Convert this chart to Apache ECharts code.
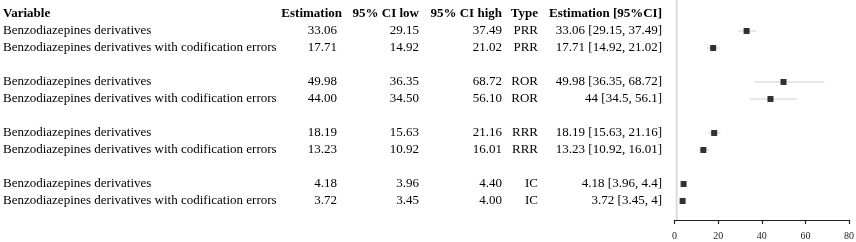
<!DOCTYPE html>
<html>
<head>
<meta charset="utf-8">
<script src="https://cdn.jsdelivr.net/npm/echarts@6/dist/echarts.min.js"></script>
<style>
  html, body { margin: 0; padding: 0; background: #fff; }
  #main { width: 856px; height: 242px; }
</style>
</head>
<body>
<div id="main"></div>
<script>
// table / forest plot data
var variables = [
  'Benzodiazepines derivatives',
  'Benzodiazepines derivatives with codification errors',
  'Benzodiazepines derivatives',
  'Benzodiazepines derivatives with codification errors',
  'Benzodiazepines derivatives',
  'Benzodiazepines derivatives with codification errors',
  'Benzodiazepines derivatives',
  'Benzodiazepines derivatives with codification errors'
];
var estimation = [33.06, 17.71, 49.98, 44.00, 18.19, 13.23, 4.18, 3.72];
var ciLow = [29.15, 14.92, 36.35, 34.50, 15.63, 10.92, 3.96, 3.45];
var ciHigh = [37.49, 21.02, 68.72, 56.10, 21.16, 16.01, 4.40, 4.00];
var types = ['PRR', 'PRR', 'ROR', 'ROR', 'RRR', 'RRR', 'IC', 'IC'];
var estLabels = [
  '33.06 [29.15, 37.49]', '17.71 [14.92, 21.02]',
  '49.98 [36.35, 68.72]', '44 [34.5, 56.1]',
  '18.19 [15.63, 21.16]', '13.23 [10.92, 16.01]',
  '4.18 [3.96, 4.4]', '3.72 [3.45, 4]'
];
var headers = ['Variable', 'Estimation', '95% CI low', '95% CI high', 'Type', 'Estimation [95%CI]'];
var xTicks = [0, 20, 40, 60, 80];
var refValue = 1;

// row layout: header, then groups of 2 with a blank row between
var rowOf = [1, 2, 4, 5, 7, 8, 10, 11];
var nRows = 12;
var rowKeys = [];
for (let i = 0; i < nRows; i++) rowKeys.push(String(i));

function column(col, vals) {
  var arr = [];
  for (let i = 0; i < nRows; i++) arr.push('');
  arr[0] = headers[col];
  for (let k = 0; k < vals.length; k++) arr[rowOf[k]] = vals[k];
  return arr;
}
var cols = [
  column(0, variables),
  column(1, estimation.map(v => v.toFixed(2))),
  column(2, ciLow.map(v => v.toFixed(2))),
  column(3, ciHigh.map(v => v.toFixed(2))),
  column(4, types),
  column(5, estLabels)
];

var FONT = '"Liberation Serif", "Times New Roman", serif';

// table grid geometry
var tblLeft = 674.5, tblTop = 5.5, rowH = 17;
// right edge of each text column (variable column: left edge)
var colX = [3, 342, 419, 502, 538, 662];
var valPad = [0, 5, 0, 0, 0, 0];

// plot grid: 0..220 px, value y axis lined up with the table rows
var plotH = 220;
var yMin = -(tblTop + rowH / 2) / rowH;
var yMax = yMin + plotH / rowH;

var yAxes = [];
cols.forEach(function (c, ci) {
  yAxes.push({
    type: 'category',
    gridIndex: 0,
    data: rowKeys,
    inverse: true,
    position: 'left',
    offset: tblLeft - colX[ci],
    axisLine: { show: false },
    axisTick: { show: false },
    splitLine: { show: false },
    axisLabel: {
      interval: 0,
      margin: 0,
      align: ci == 0 ? 'left' : 'right',
      color: '#000',
      fontFamily: FONT,
      fontSize: 13,
      formatter: function (v, i) {
        var t = c[i];
        if (!t) return '';
        return i == 0 ? '{b|' + t + '}' : '{v|' + t + '}';
      },
      rich: {
        b: { fontWeight: 'bold', fontFamily: FONT, fontSize: 13, color: '#000' },
        v: { fontFamily: FONT, fontSize: 13, color: '#000', padding: [0, valPad[ci], 0, 0] }
      }
    }
  });
});
yAxes.push({
  type: 'value',
  gridIndex: 1,
  inverse: true,
  min: yMin,
  max: yMax,
  show: false
});
var plotY = yAxes.length - 1;

var pts = [], ci = [];
for (let k = 0; k < estimation.length; k++) {
  pts.push([estimation[k], rowOf[k]]);
  ci.push([ciLow[k], ciHigh[k], rowOf[k]]);
}

var chart = echarts.init(document.getElementById('main'));
var option = {
  animation: false,
  grid: [
    { left: tblLeft, right: 7, top: tblTop, height: rowH * nRows, outerBoundsMode: 'none' },
    { left: tblLeft, right: 7, top: 0, height: plotH, outerBoundsMode: 'none' }
  ],
  xAxis: [
    { type: 'value', gridIndex: 0, min: 0, max: 80, show: false },
    {
      type: 'value',
      gridIndex: 1,
      position: 'bottom',
      min: xTicks[0],
      max: xTicks[xTicks.length - 1],
      interval: 20,
      axisLine: { show: true, onZero: false, lineStyle: { color: '#222', width: 1.2 } },
      axisTick: { show: true, length: 4, lineStyle: { color: '#222', width: 1.2 } },
      splitLine: { show: false },
      axisLabel: { color: '#222', fontFamily: FONT, fontSize: 10, margin: 11 }
    }
  ],
  yAxis: yAxes,
  series: [
    {
      type: 'line',
      xAxisIndex: 1,
      yAxisIndex: plotY,
      data: [[refValue, yMin], [refValue, yMax]],
      symbol: 'none',
      silent: true,
      lineStyle: { color: '#dcdcdc', width: 2 }
    },
    {
      type: 'custom',
      xAxisIndex: 1,
      yAxisIndex: plotY,
      data: ci,
      encode: { x: [0, 1], y: 2 },
      renderItem: function (params, api) {
        var p1 = api.coord([api.value(0), api.value(2)]);
        var p2 = api.coord([api.value(1), api.value(2)]);
        return {
          type: 'line',
          shape: { x1: p1[0], y1: p1[1], x2: p2[0], y2: p2[1] },
          style: { stroke: '#cfcfcf', lineWidth: 1 }
        };
      }
    },
    {
      type: 'scatter',
      xAxisIndex: 1,
      yAxisIndex: plotY,
      data: pts,
      symbol: 'rect',
      symbolSize: 6,
      itemStyle: { color: '#000' }
    }
  ]
};
chart.setOption(option);
</script>
</body>
</html>
